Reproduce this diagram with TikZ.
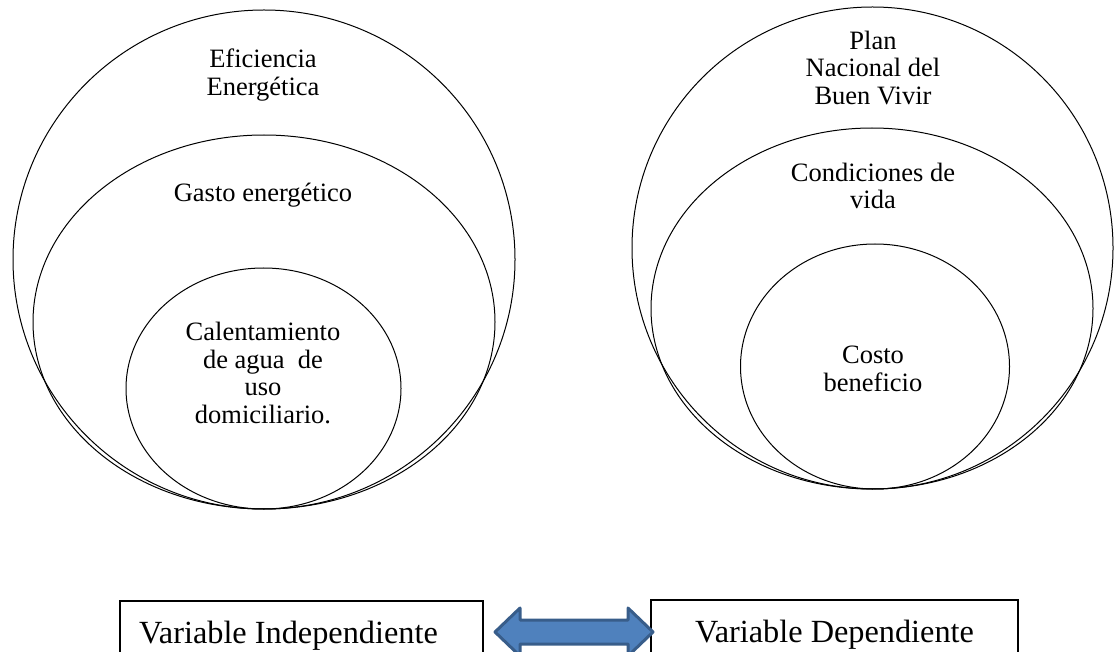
\documentclass[tikz,border=0pt]{standalone}
\usepackage{fontspec}
\setmainfont{Liberation Serif}
\usetikzlibrary{shapes.geometric,calc}
\definecolor{arrowfill}{RGB}{79,129,189}
\definecolor{arrowline}{RGB}{56,93,138}
\begin{document}
\begin{tikzpicture}[x=1pt,y=-1pt,
  ring/.style={draw, ellipse, line width=1pt, inner sep=0pt, outer sep=0pt},
  lbl/.style={align=center, font=\fontsize{26.5}{27.5}\selectfont, inner sep=0pt},
  varbox/.style={draw, line width=1.4pt, anchor=north west, outer sep=0pt,
    inner xsep=0pt, inner ysep=20pt, text height=22pt, text depth=30pt,
    font=\fontsize{32.3}{36}\selectfont},
  blockarrow/.style={fill=arrowfill, draw=arrowline, line width=3pt, line join=round}
  ]
\useasboundingbox (0,0) rectangle (1119,652);
% left group
\node[ring, minimum width=502pt, minimum height=499pt] (L1) at (264,259.5) {};
\node[ring, minimum width=462pt, minimum height=374pt] (L2) at (264,322) {};
\node[ring, minimum width=275pt, minimum height=241pt] (L3) at (263.5,388.5) {};
\node[lbl] (t1) at (263,75) {Eficiencia\\Energética};
\node[lbl] (t2) at (263,195) {Gasto energético};
\node[lbl] (t3) at (263,373) {Calentamiento\\de agua~ de\\uso\\domiciliario.};
% right group
\node[ring, minimum width=481pt, minimum height=482pt] (R1) at (872.5,248) {};
\node[ring, minimum width=442pt, minimum height=361pt] (R2) at (872,308.5) {};
\node[ring, minimum width=269pt, minimum height=245pt] (R3) at (875,366.5) {};
\node[lbl] (u1) at (873,68) {Plan\\Nacional del\\Buen Vivir};
\node[lbl] (u2) at (873,186) {Condiciones de\\vida};
\node[lbl] (u3) at (873,369) {Costo\\beneficio};
% bottom boxes
\node[varbox, minimum width=363pt] (vi) at (120,601) {Variable Independiente\hspace*{26pt}};
\node[varbox, minimum width=367pt] (vd) at (651,600) {Variable Dependiente};
% double block arrow
\coordinate (al) at ($(vi.north east)+(12,31)$);
\coordinate (ar) at ($(vd.north west)+(2,32)$);
\draw[blockarrow] (al) -- ($(al)+(25,-24)$) -- ($(al)+(25,-12)$) -- ($(ar)+(-25,-12)$)
  -- ($(ar)+(-25,-24)$) -- (ar) -- ($(ar)+(-25,24)$) -- ($(ar)+(-25,12)$)
  -- ($(al)+(25,12)$) -- ($(al)+(25,24)$) -- cycle;
\end{tikzpicture}
\end{document}
